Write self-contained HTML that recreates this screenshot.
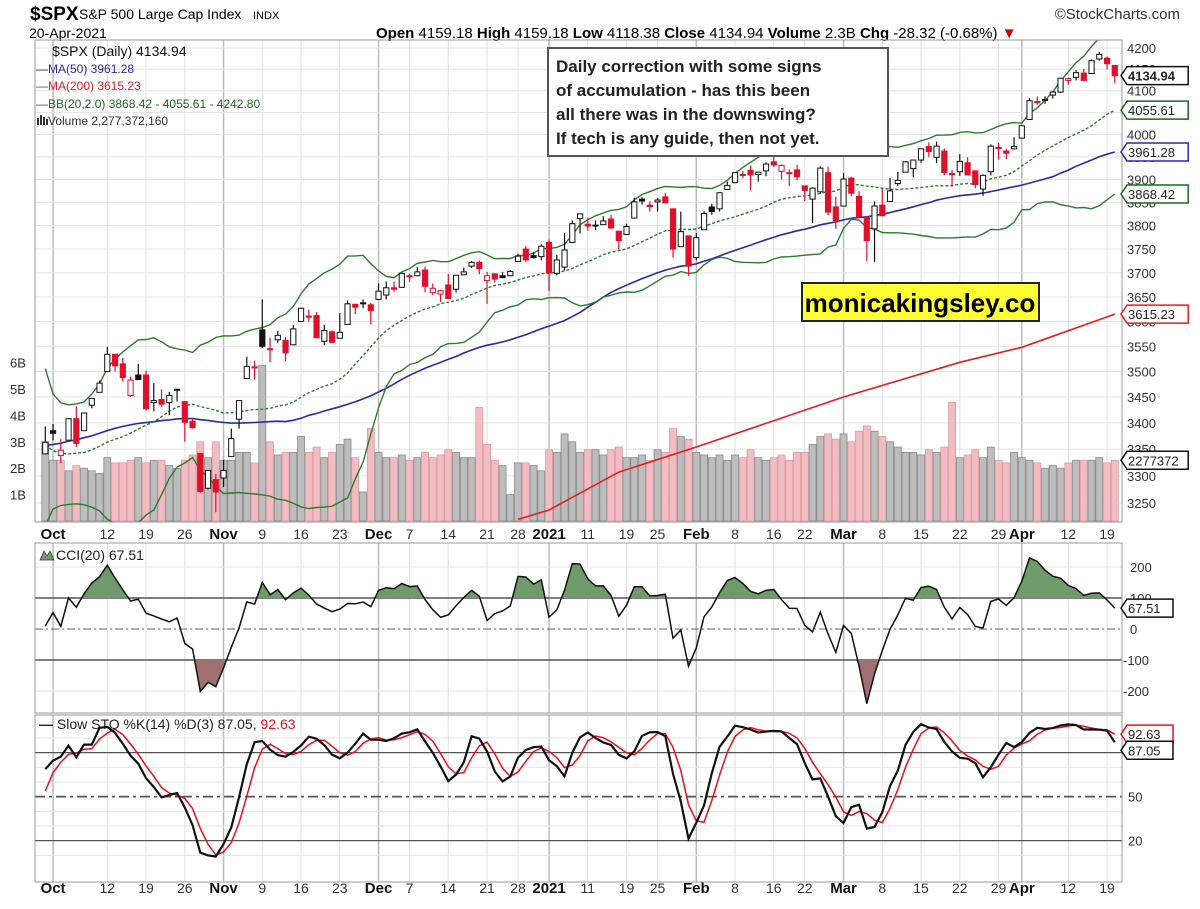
<!DOCTYPE html>
<html><head><meta charset="utf-8">
<style>
body{margin:0;background:#fff;width:1200px;height:904px;overflow:hidden;font-family:"Liberation Sans",sans-serif}
svg text{font-family:"Liberation Sans",sans-serif}
</style></head>
<body>
<svg id="chart" width="1200" height="904" viewBox="0 0 1200 904" xmlns="http://www.w3.org/2000/svg">
  <text x="30" y="20" font-size="19" font-weight="bold">$SPX</text>
  <text x="79" y="19" font-size="14">S&amp;P 500 Large Cap Index</text>
  <text x="253" y="19" font-size="11">INDX</text>
  <text x="29" y="38" font-size="14">20-Apr-2021</text>
  <text x="376" y="38" font-size="15"><tspan font-weight="bold">Open</tspan> 4159.18 <tspan font-weight="bold">High</tspan> 4159.18 <tspan font-weight="bold">Low</tspan> 4118.38 <tspan font-weight="bold">Close</tspan> 4134.94 <tspan font-weight="bold">Volume</tspan> 2.3B <tspan font-weight="bold">Chg</tspan> -28.32 (-0.68%) <tspan fill="#c00">▼</tspan></text>
  <text x="1180" y="19" font-size="15" text-anchor="end" fill="#333">©StockCharts.com</text>
  <g id="main"></g>
  <g id="cci"></g>
  <g id="sto"></g>
  <g>
    <rect x="548" y="48" width="340" height="108" fill="#fff" stroke="#555" stroke-width="2"/>
    <text x="556" y="72" font-size="17" font-weight="bold" fill="#222">Daily correction with some signs</text>
    <text x="556" y="96" font-size="17" font-weight="bold" fill="#222">of accumulation - has this been</text>
    <text x="556" y="120" font-size="17" font-weight="bold" fill="#222">all there was in the downswing?</text>
    <text x="556" y="144" font-size="17" font-weight="bold" fill="#222">If tech is any guide, then not yet.</text>
  </g>
  <g>
    <rect x="802" y="283" width="237" height="38" fill="#ffff33" stroke="#222" stroke-width="2"/>
    <text x="920" y="312" font-size="26" font-weight="bold" text-anchor="middle">monicakingsley.co</text>
  </g>
</svg>
<script>
// ---- data ----
const preCloses=[3251,3257,3276,3236,3215,3239,3218,3258,3246,3271,3294,3306,3327,3349,3351,3360,3333,3380,3373,3373,3381,3389,3374,3385,3397,3431,3443,3478,3484,3508,3500,3527,3580,3455,3427,3332,3399,3339,3341,3383,3401,3385,3357,3320,3281,3315,3237,3247,3298,3351,3335];
const closes=[3363,
3380,3348,3408,3361,3419,3447,3477,3534,3511,3488,3483,3484,3427,3443,3436,3453,3465,3401,3391,3271,3310,3270,
3310,3370,3443,3510,3509,3550,3545,3572,3537,3585,3627,3610,3567,3582,3558,3578,3636,3629,3638,3622,
3662,3669,3666,3699,3692,3702,3672,3668,3663,3647,3695,3702,3722,3709,3694,3687,3690,3703,3735,3727,3732,3756,
3700,3727,3748,3804,3825,3799,3801,3810,3795,3768,3798,3851,3853,3841,3855,3849,3750,3787,3714,
3774,3826,3830,3871,3887,3915,3911,3910,3916,3934,3932,3931,3913,3906,3876,3881,3925,3829,3811,
3901,3870,3819,3768,3842,3821,3875,3898,3939,3943,3968,3962,3974,3915,3913,3940,3910,3889,3909,3974,3971,3958,3973,
4020,4077,4074,4080,4097,4129,4128,4142,4124,4170,4185,4163,4135];
const opens=[3341,
3385,3338,3367,3408,3385,3434,3459,3500,3534,3515,3453,3493,3493,3439,3445,3439,3464,3441,3403,3342,3277,3293,
3296,3336,3407,3486,3509,3583,3544,3563,3562,3553,3600,3611,3612,3560,3579,3566,3594,3635,3638,3634,
3645,3654,3669,3670,3694,3694,3706,3659,3656,3675,3666,3696,3714,3722,3684,3698,3694,3694,3724,3750,3736,3734,
3764,3699,3712,3764,3815,3803,3801,3802,3814,3788,3781,3816,3857,3844,3851,3862,3836,3755,3778,
3732,3791,3840,3836,3878,3893,3910,3920,3911,3919,3939,3918,3915,3921,3886,3857,3873,3915,3840,
3842,3903,3863,3818,3793,3844,3852,3891,3916,3924,3943,3973,3949,3963,3913,3917,3937,3919,3879,3917,3969,3963,3968,
3992,4034,4075,4080,4090,4097,4124,4131,4141,4140,4174,4176,4159];
const highs=[3393,
3398,3369,3409,3432,3419,3448,3482,3549,3534,3527,3490,3515,3502,3477,3465,3460,3466,3442,3409,3342,3305,3304,
3330,3389,3443,3529,3521,3645,3567,3581,3569,3593,3628,3624,3619,3593,3582,3617,3643,3636,3645,3638,
3678,3682,3682,3700,3698,3712,3713,3678,3665,3698,3695,3711,3725,3726,3702,3699,3702,3706,3740,3756,3744,3760,
3770,3738,3784,3811,3826,3817,3811,3820,3823,3788,3804,3860,3861,3852,3859,3870,3836,3830,3778,
3784,3831,3847,3872,3895,3916,3919,3931,3917,3938,3951,3933,3922,3932,3886,3883,3929,3929,3862,
3914,3906,3874,3818,3852,3881,3903,3917,3941,3944,3969,3982,3984,3969,3921,3956,3949,3919,3911,3978,3981,3968,3994,
4021,4083,4087,4087,4099,4130,4131,4148,4151,4173,4191,4180,4159];
const lows=[3340,
3367,3324,3367,3354,3385,3428,3459,3500,3500,3480,3450,3483,3424,3422,3431,3415,3441,3364,3389,3269,3275,3233,
3279,3336,3389,3486,3484,3547,3518,3557,3520,3552,3600,3600,3567,3552,3556,3566,3594,3615,3627,3594,
3645,3645,3661,3670,3681,3693,3660,3654,3640,3646,3659,3695,3710,3697,3636,3680,3689,3693,3724,3723,3730,3726,
3663,3695,3705,3764,3783,3789,3790,3802,3792,3749,3780,3816,3845,3830,3830,3848,3732,3755,3694,
3726,3791,3823,3830,3877,3892,3903,3876,3895,3907,3928,3900,3886,3898,3853,3805,3869,3822,3793,
3842,3863,3818,3724,3723,3820,3852,3886,3916,3905,3937,3950,3936,3909,3884,3908,3910,3881,3864,3909,3944,3945,3967,
3992,4034,4068,4070,4082,4095,4114,4124,4123,4140,4170,4150,4118];
const volumes=[3.0,
2.3,2.3,1.9,2.1,2.0,1.9,1.8,2.4,2.2,2.2,2.3,2.4,2.2,2.3,2.3,2.1,2.0,2.3,2.5,3.0,2.4,3.0,
2.3,2.3,2.6,2.6,2.2,5.9,3.0,2.5,2.6,2.6,3.2,2.6,2.8,2.4,2.6,2.9,3.1,2.4,1.1,3.5,
2.6,2.4,2.4,2.5,2.3,2.4,2.6,2.4,2.5,2.7,2.6,2.4,2.4,4.3,2.9,2.3,2.1,1.0,2.2,2.2,2.1,1.9,
2.7,2.6,3.3,3.0,2.6,2.7,2.7,2.5,2.7,2.8,2.4,2.4,2.5,2.3,2.7,2.6,3.5,3.2,3.1,
2.6,2.5,2.4,2.5,2.3,2.5,2.4,2.7,2.4,2.3,2.4,2.5,2.3,2.6,2.6,2.9,3.2,3.3,3.1,
3.3,3.0,3.4,3.6,3.4,3.2,3.0,2.8,2.6,2.6,2.5,2.7,2.6,2.8,4.5,2.4,2.5,2.7,2.4,2.8,2.3,2.2,2.6,
2.4,2.3,2.2,2.0,2.1,2.0,2.2,2.3,2.3,2.3,2.4,2.2,2.3];
const ma200Idx=[61,65,74,84,103,118,126,138];
const ma200Val=[3220,3237,3307,3354,3450,3518,3548,3615];
const dateIdx=[1,8,13,18,23,28,33,38,43,47,52,57,61,65,70,75,79,84,89,94,98,103,108,113,118,123,126,132,137];
const dateLbl=["Oct","12","19","26","Nov","9","16","23","Dec","7","14","21","28","2021","11","19","25","Feb","8","16","22","Mar","8","15","22","29","Apr","12","19"];
const dateBold=["Oct","Nov","Dec","2021","Feb","Mar","Apr"];
const priceTicks=[3250,3300,3350,3400,3450,3500,3550,3600,3650,3700,3750,3800,3850,3900,3950,4000,4050,4100,4150,4200];
const volTicks=[1,2,3,4,5,6];
const cciTicks=[200,100,0,-100,-200];
const stoTicks=[80,50,20];

// ---- geometry ----
const NS="http://www.w3.org/2000/svg";
const L=35,R=1122;
const X=i=>45.3+7.75*i;
const Y=p=>48+1774*Math.log(4200/p);
const VY=v=>521-v*26.4;
const CY=v=>629-v*0.31;
const SY=v=>870-v*1.467;
const P={main:[40,522],cci:[543,713],sto:[715,882]};
function mk(tag,at,parent){const e=document.createElementNS(NS,tag);for(const k in at)e.setAttribute(k,at[k]);parent.appendChild(e);return e;}
const gMain=document.getElementById('main'),gCci=document.getElementById('cci'),gSto=document.getElementById('sto');
const n=closes.length;

[[gMain,P.main],[gCci,P.cci],[gSto,P.sto]].forEach(([g,[t,b]])=>{
  dateIdx.forEach((di,k)=>{
    const bold=dateBold.includes(dateLbl[k]);
    const ln=mk('line',{x1:X(di),x2:X(di),y1:t,y2:b,stroke:bold?'#bbb':'#e0e0e0','stroke-width':bold?1.5:1},g);
    
    
  });
});
priceTicks.forEach(p=>{
  const y=Y(p);
  const ln=mk('line',{x1:L,x2:R,y1:y,y2:y,stroke:'#e4e4e4'},gMain);
  
  
  const t=mk('text',{x:1127,y:y+5,'font-size':13,fill:'#333'},gMain);t.textContent=p;
  
  
});
volTicks.forEach(v=>{
  const t=mk('text',{x:10,y:VY(v)+5,'font-size':13,fill:'#333'},gMain);t.textContent=v+'B';
  
  
});
for(let i=0;i<n;i++){
  const down=i>0&&closes[i]<closes[i-1];
  const r=mk('rect',{x:X(i)-3.5,y:VY(volumes[i]),width:7,height:521-VY(volumes[i]),fill:down?'#f2bcc3':'#bdbdbd',stroke:down?'#dc9aa2':'#8a8a8a','stroke-width':0.8},gMain);
  
  
}
const all=preCloses.concat(closes),off=preCloses.length;
function ma(k,len){let s=0;for(let j=k-len+1;j<=k;j++)s+=all[j];return s/len;}
const ma50=[],bbU=[],bbM=[],bbL=[];
for(let i=0;i<n;i++){
  const k=i+off;ma50.push(ma(k,50));
  const m=ma(k,20);let v=0;for(let j=k-19;j<=k;j++)v+=(all[j]-m)**2;const sd=Math.sqrt(v/20);
  bbM.push(m);bbU.push(m+2*sd);bbL.push(m-2*sd);
}
const clipM=mk('clipPath',{id:'clipMain'},gMain);mk('rect',{x:L,y:P.main[0],width:R-L,height:P.main[1]-P.main[0]},clipM);
function pline(arr,g,col,w,dash,name,yf,xs){
  const pts=arr.map((v,i)=>(xs?X(xs[i]):X(i)).toFixed(1)+','+yf(v).toFixed(1)).join(' ');
  const p=mk('polyline',{points:pts,fill:'none',stroke:col,'stroke-width':w},g);
  if(g===gMain)p.setAttribute('clip-path','url(#clipMain)');
  if(dash)p.setAttribute('stroke-dasharray',dash);
  
  
  return p;
}
pline(ma200Val,gMain,'#e02020',1.6,null,'ma200-line',Y,ma200Idx);
pline(ma50,gMain,'#2a2aa8',1.6,null,'ma50-line',Y);
pline(bbU,gMain,'#2f7a2f',1.4,null,'bb-upper-line',Y);
pline(bbL,gMain,'#2f7a2f',1.4,null,'bb-lower-line',Y);
pline(bbM,gMain,'#2f7a2f',1.4,'3,2','bb-middle-line',Y);
for(let i=0;i<n;i++){
  const o=opens[i],c=closes[i];
  const col=(i>0&&c<closes[i-1])?'#e0102a':'#111';
  const hi=Math.max(highs[i],o,c),lo=Math.min(lows[i],o,c);
  const w=mk('line',{x1:X(i),x2:X(i),y1:Y(hi),y2:Y(lo),stroke:col,'stroke-width':1.2},gMain);
  
  
  const top=Y(Math.max(o,c)),bot=Y(Math.min(o,c));
  const b=mk('rect',{x:X(i)-2.6,y:top,width:5.2,height:Math.max(1,bot-top),fill:c>=o?'#fff':col,stroke:col,'stroke-width':1},gMain);
  
  
}
const f1=mk('rect',{x:L,y:P.main[0],width:R-L,height:P.main[1]-P.main[0],fill:'none',stroke:'#999'},gMain);


const leg=[["$SPX (Daily) 4134.94",'#111',14,56,'"Liberation Mono",monospace',52],["—MA(50) 3961.28",'#2a2aa8',12,73,null,36],["—MA(200) 3615.23",'#e02020',12,90,null,36],["—BB(20,2.0) 3868.42 - 4055.61 - 4242.80",'#1f661f',12,108,null,36],["Volume 2,277,372,160",'#333',12,125,null,48]];
leg.forEach(([s,c,fs,y,ff,x])=>{
  const t=mk('text',{x:x,y:y,'font-size':fs,fill:c},gMain);t.textContent=s;
  if(ff)t.setAttribute('font-family',ff);
  
  
});
const vi=mk('path',{d:'M38,125 v-7 M41,125 v-10 M44,125 v-8 M47,125 v-6',stroke:'#333','stroke-width':2},gMain);


function tag(g,y,txt,col,bold){
  const w=txt.length*7.6+8;
  const p=mk('path',{d:`M1121,${y} l6,-9 h${w} v18 h-${w} z`,fill:'#fff',stroke:col,'stroke-width':1.5},g);
  
  
  const t=mk('text',{x:1128,y:y+5,'font-size':13,fill:'#222','font-weight':bold?'bold':'normal'},g);t.textContent=txt;
  
  
}
tag(gMain,Y(closes[n-1]),'4134.94','#111',true);
tag(gMain,Y(bbM[n-1]),'4055.61','#1f661f');
tag(gMain,Y(ma50[n-1]),'3961.28','#2a2aa8');
tag(gMain,Y(bbL[n-1]),'3868.42','#1f661f');
tag(gMain,Y(ma200Val[ma200Val.length-1]),'3615.23','#e02020');
tag(gMain,VY(volumes[n-1]),'2277372','#111');
function dates(y){
  dateIdx.forEach((di,k)=>{
    const bold=dateBold.includes(dateLbl[k]);
    const t=mk('text',{x:X(di),y:y,'font-size':bold?15:14,'font-weight':bold?'bold':'normal','text-anchor':'middle',fill:bold?'#111':'#333'},gMain);
    t.textContent=dateLbl[k];
    
    
  });
}
dates(539);dates(893);

// CCI
const tp=all.map((c,j)=>j<off?c:(highs[j-off]+lows[j-off]+c)/3);
const cci=[];
for(let i=0;i<n;i++){const k=i+off;let s=0;for(let j=k-19;j<=k;j++)s+=tp[j];const m=s/20;let md=0;for(let j=k-19;j<=k;j++)md+=Math.abs(tp[j]-m);md/=20;cci.push((tp[k]-m)/(0.015*md));}
cciTicks.forEach(v=>{
  const y=CY(v);
  const ln=mk('line',{x1:L,x2:R,y1:y,y2:y,stroke:v===0?'#666':(Math.abs(v)===100?'#555':'#e4e4e4'),'stroke-width':Math.abs(v)===100?1.5:1},gCci);
  if(v===0)ln.setAttribute('stroke-dasharray','8,3,2,3');
  
  
  const t=mk('text',{x:v<0?1123:1130,y:y+5,'font-size':13,fill:'#333'},gCci);t.textContent=v;
  
  
});
const cup=mk('clipPath',{id:'cUp'},gCci);mk('rect',{x:L,y:P.cci[0],width:R-L,height:CY(100)-P.cci[0]},cup);
const cdn=mk('clipPath',{id:'cDn'},gCci);mk('rect',{x:L,y:CY(-100),width:R-L,height:P.cci[1]-CY(-100)},cdn);
const cpts=cci.map((v,i)=>X(i).toFixed(1)+','+CY(v).toFixed(1)).join(' ');
const fu=mk('polygon',{points:`${X(0)},${CY(100)} ${cpts} ${X(n-1)},${CY(100)}`,fill:'#6f9a6a',stroke:'none','clip-path':'url(#cUp)'},gCci);


const fd=mk('polygon',{points:`${X(0)},${CY(-100)} ${cpts} ${X(n-1)},${CY(-100)}`,fill:'#a07070',stroke:'none','clip-path':'url(#cDn)'},gCci);


pline(cci,gCci,'#111',1.5,null,'cci-line',CY);
const f2=mk('rect',{x:L,y:P.cci[0],width:R-L,height:P.cci[1]-P.cci[0],fill:'none',stroke:'#999'},gCci);


const ct=mk('text',{x:56,y:560,'font-size':14,'font-family':'"Liberation Mono",monospace',fill:'#222'},gCci);ct.textContent='CCI(20) 67.51';


const ci=mk('path',{d:'M40,560 l4,-9 l3,5 l3,-5 l4,9 z',fill:'#6f9a6a',stroke:'#333','stroke-width':0.7},gCci);


tag(gCci,CY(cci[n-1]),'67.51','#111');

// Stochastics
const hAll=all.map((c,j)=>j<off?c:highs[j-off]),lAll=all.map((c,j)=>j<off?c:lows[j-off]);
const fast=[];for(let k=0;k<all.length;k++){if(k<13){fast.push(50);continue;}let hh=-1e9,ll=1e9;for(let j=k-13;j<=k;j++){hh=Math.max(hh,hAll[j]);ll=Math.min(ll,lAll[j]);}fast.push(100*(all[k]-ll)/(hh-ll||1));}
const slowK=fast.map((v,k)=>k<2?v:(fast[k]+fast[k-1]+fast[k-2])/3);
const slowD=slowK.map((v,k)=>k<2?v:(slowK[k]+slowK[k-1]+slowK[k-2])/3);
const stoK=slowK.slice(off),stoD=slowD.slice(off);
stoTicks.forEach(v=>{
  const y=SY(v);
  const ln=mk('line',{x1:L,x2:R,y1:y,y2:y,stroke:'#555','stroke-width':v===50?1.8:1.2},gSto);
  if(v===50)ln.setAttribute('stroke-dasharray','10,4,3,4');
  
  
  const t=mk('text',{x:1128,y:y+5,'font-size':13,fill:'#333'},gSto);t.textContent=v;
  
  
});
[10,30,40,60,70,90].forEach(v=>{const ln=mk('line',{x1:L,x2:R,y1:SY(v),y2:SY(v),stroke:'#e4e4e4'},gSto);});
const clipS=mk('clipPath',{id:'clipSto'},gSto);mk('rect',{x:L,y:P.sto[0],width:R-L,height:P.sto[1]-P.sto[0]},clipS);
pline(stoD,gSto,'#e8101a',1.5,null,'sto-d-line',SY).setAttribute('clip-path','url(#clipSto)');
pline(stoK,gSto,'#111',2.2,null,'sto-k-line',SY).setAttribute('clip-path','url(#clipSto)');
const f3=mk('rect',{x:L,y:P.sto[0],width:R-L,height:P.sto[1]-P.sto[0],fill:'none',stroke:'#999'},gSto);


const st=mk('text',{x:39,y:729,'font-size':14,'font-family':'"Liberation Mono",monospace',fill:'#222'},gSto);
st.innerHTML='<tspan font-weight="bold">—</tspan> Slow STO %K(14) %D(3) 87.05, <tspan fill="#e8101a">92.63</tspan>';


tag(gSto,SY(stoD[n-1]),'92.63','#e8101a');
tag(gSto,SY(stoK[n-1])+8,'87.05','#111');
</script>
</body></html>
